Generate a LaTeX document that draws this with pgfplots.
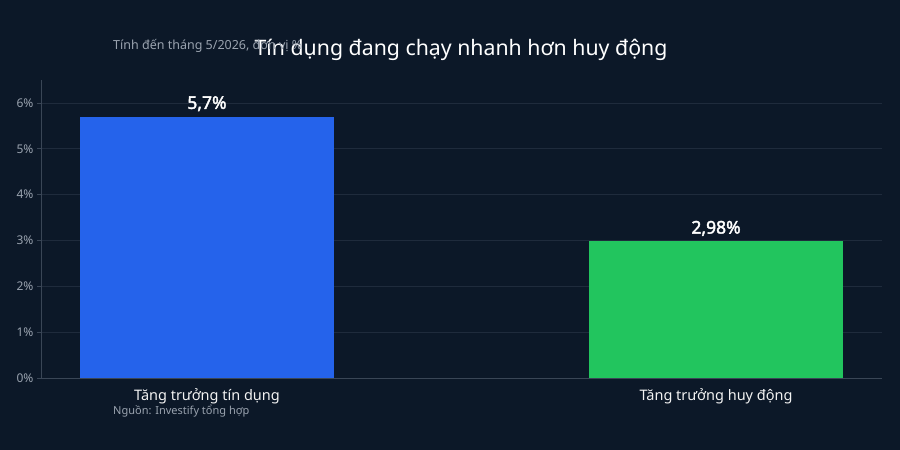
\documentclass[border=0pt]{standalone}
\usepackage{fontspec}
\setmainfont{Noto Sans}
\newfontfamily\labelfont{Noto Sans}[FakeBold=2.2]
\usepackage{pgfplots}
\pgfplotsset{compat=1.18}
\definecolor{bg}{HTML}{0C1828}
\definecolor{gridc}{HTML}{1F2B3C}
\definecolor{axisc}{HTML}{3A4656}
\definecolor{tickc}{HTML}{9AA3AF}
\definecolor{barblue}{HTML}{2563EB}
\definecolor{bargreen}{HTML}{22C55E}
\begin{document}
\begin{tikzpicture}
\fill[bg] (0pt,0pt) rectangle (900pt,450pt);
\begin{axis}[
    at={(41pt,72pt)}, anchor=south west,
    scale only axis,
    width=841pt, height=298pt,
    xmin=-0.326, xmax=1.326,
    ymin=0, ymax=6.5,
    xtick={0,1},
    xticklabels={Tăng trưởng tín dụng, Tăng trưởng huy động},
    ytick={0,1,2,3,4,5,6},
    yticklabel={\pgfmathprintnumber{\tick}\%},
    /pgf/number format/assume math mode=true,
    ymajorgrids,
    grid style={gridc, line width=0.8pt},
    axis x line*=bottom, axis y line*=left,
    axis line style={axisc, line width=0.8pt},
    x axis line style={-}, y axis line style={-},
    major x tick style={draw=none},
    major y tick style={axisc, line width=0.8pt},
    tick align=outside, major tick length=4pt,
    yticklabel style={font=\fontsize{12}{12}\selectfont, text=tickc},
    xticklabel style={font=\fontsize{14.5}{14.5}\selectfont, text=white!90!gray, yshift=-3.5pt},
    ybar, bar width=254pt, bar shift=0pt,
    nodes near coords,
    point meta=explicit symbolic,
    every node near coord/.append style={font=\fontsize{17.5}{17.5}\labelfont, text=white, yshift=2pt},
    clip=false,
]
\addplot[fill=barblue, draw=none] coordinates {(0,5.7) [5,7\%]};
\addplot[fill=bargreen, draw=none] coordinates {(1,2.98) [2,98\%]};
\end{axis}
\node[anchor=base, text=white, font=\fontsize{21.3}{21.3}\selectfont] at (461pt,394pt) {Tín dụng đang chạy nhanh hơn huy động};
\node[anchor=base west, inner sep=0, text=tickc, font=\fontsize{12.5}{12.5}\selectfont] at (113pt,400pt) {Tính đến tháng 5/2026, đơn vị \%};
\node[anchor=base west, inner sep=0, text=tickc, font=\fontsize{11}{11}\selectfont] at (113pt,35pt) {Nguồn: Investify tổng hợp};
\end{tikzpicture}
\end{document}
